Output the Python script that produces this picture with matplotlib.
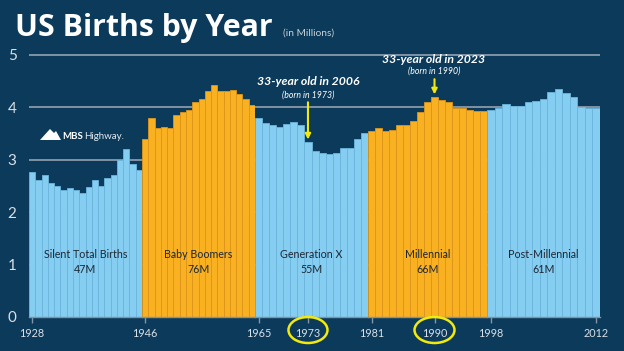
import matplotlib
matplotlib.use("Agg")
import matplotlib.pyplot as plt
from matplotlib.patches import Ellipse, Polygon
from matplotlib.transforms import blended_transform_factory

# ---------------- data ----------------
silent_vals = [2.76, 2.61, 2.70, 2.55, 2.50, 2.41, 2.46, 2.41, 2.37, 2.47,
               2.61, 2.50, 2.65, 2.70, 2.99, 3.20, 2.91, 2.80]
boomer_vals = [3.40, 3.80, 3.60, 3.61, 3.60, 3.85, 3.90, 3.95, 4.10, 4.15,
               4.30, 4.41, 4.30, 4.30, 4.33, 4.25, 4.15, 4.04]
genx_vals = [3.80, 3.70, 3.65, 3.62, 3.68, 3.71, 3.65, 3.33, 3.16, 3.12,
             3.10, 3.12, 3.21, 3.21, 3.40, 3.50]
millennial_vals = [3.55, 3.60, 3.55, 3.56, 3.66, 3.66, 3.73, 3.90, 4.10, 4.19,
                   4.14, 4.10, 3.99, 3.98, 3.94, 3.92, 3.92]
post_vals = [3.94, 3.99, 4.05, 4.01, 4.01, 4.10, 4.12, 4.15, 4.29, 4.34,
             4.27, 4.20, 4.00, 3.98, 3.98]

section_names = ["Silent Total Births", "Baby Boomers", "Generation X",
                 "Millennial", "Post-Millennial"]
section_totals = ["47M", "76M", "55M", "66M", "61M"]
section_values = [silent_vals, boomer_vals, genx_vals, millennial_vals, post_vals]
# tick labels per section: (bar index within section, label)
section_ticks = [[(0, "1928")], [(0, "1946")], [(0, "1965"), (7, "1973")],
                 [(0, "1981"), (9, "1990")], [(0, "1998"), (14, "2012")]]
y_ticks = [0, 1, 2, 3, 4, 5]

# ---------------- style ----------------
BG = "#0b3a5a"
BLUE = "#86cdf2"
BLUE_EDGE = "#6cb6de"
ORANGE = "#f9b021"
ORANGE_EDGE = "#de961a"
GRID = "#8193a5"
TXT = "#d9e0e6"
YELLOW = "#f2ea0c"
colors = [BLUE, ORANGE, BLUE, ORANGE, BLUE]
edges = [BLUE_EDGE, ORANGE_EDGE, BLUE_EDGE, ORANGE_EDGE, BLUE_EDGE]

W, H = 624, 351
fig = plt.figure(figsize=(W / 100, H / 100), dpi=100, facecolor=BG)

px_left = [29, 142, 255, 368, 487]
px_width = [113, 113, 113, 119, 113]
zero_px = 317
unit_px = 52.5
ymax = 5.1
bottom = (H - zero_px) / H
height = ymax * unit_px / H

axes = []
for i, vals in enumerate(section_values):
    ax = fig.add_axes([px_left[i] / W, bottom, px_width[i] / W, height])
    ax.set_facecolor("none")
    idx = list(range(len(vals)))
    ax.bar(idx, vals, width=1.0, color=colors[i], edgecolor=edges[i],
           linewidth=0.6, zorder=3)
    ax.set_xlim(-0.5, len(vals) - 0.5)
    ax.set_ylim(0, ymax)
    ax.set_yticks(y_ticks[1:] if i else y_ticks)
    ax.grid(axis="y", color=GRID, linewidth=1.4, zorder=0)
    for s in ["top", "right", "left"]:
        ax.spines[s].set_visible(False)
    ax.spines["bottom"].set_color(GRID)
    ax.spines["bottom"].set_linewidth(1.0)
    ax.spines["bottom"].set_zorder(4)
    if i == 0:
        ax.tick_params(axis="y", length=0, pad=9, labelsize=11, labelcolor=TXT)
        for lab in ax.get_yticklabels():
            lab.set_fontfamily("Lato")
    else:
        ax.tick_params(axis="y", length=0, labelleft=False)
    ticks = section_ticks[i]
    ax.set_xticks([t[0] for t in ticks])
    ax.set_xticklabels([t[1] for t in ticks], fontsize=7.8, color=TXT,
                       fontfamily="Lato")
    ax.tick_params(axis="x", length=4, width=1, color=GRID, pad=4)
    ax.text((len(vals) - 1) / 2, 1.04, section_names[i] + "\n" + section_totals[i],
            ha="center", va="center", fontsize=7.7, color="#1c2733",
            fontfamily="Lato", linespacing=1.45, zorder=5)
    axes.append(ax)

# annotations
ax3 = axes[2]
ax3.text(7.1, 4.48, "33-year old in 2006", ha="center", va="center", color="white",
         fontsize=8.8, fontweight="bold", fontstyle="italic", fontfamily="Lato")
ax3.text(7.1, 4.22, "(born in 1973)", ha="center", va="center", color="white",
         fontsize=6.3, fontstyle="italic", fontfamily="Lato")
ax3.annotate("", xy=(7, genx_vals[7] + 0.05), xytext=(7, 4.09),
             arrowprops=dict(arrowstyle="-|>", color=YELLOW, lw=1.5,
                             mutation_scale=8, shrinkA=0, shrinkB=0))
ax4 = axes[3]
ax4.text(8.8, 4.91, "33-year old in 2023", ha="center", va="center", color="white",
         fontsize=8.8, fontweight="bold", fontstyle="italic", fontfamily="Lato")
ax4.text(8.9, 4.68, "(born in 1990)", ha="center", va="center", color="white",
         fontsize=6.3, fontstyle="italic", fontfamily="Lato")
ax4.annotate("", xy=(9, millennial_vals[9] + 0.05), xytext=(9, 4.53),
             arrowprops=dict(arrowstyle="-|>", color=YELLOW, lw=1.5,
                             mutation_scale=8, shrinkA=0, shrinkB=0))

# yellow ellipses around highlighted years
for ax, xi, wpx in [(ax3, 7, 39), (ax4, 9, 40)]:
    tr = blended_transform_factory(ax.transData, ax.transAxes)
    bar_px = ax.get_position().width * W / (ax.get_xlim()[1] - ax.get_xlim()[0])
    e = Ellipse((xi, -13 / (ymax * unit_px)), wpx / bar_px, 26 / (ymax * unit_px),
                transform=tr, fill=False, edgecolor=YELLOW, linewidth=1.8,
                clip_on=False, zorder=6)
    ax.add_patch(e)

# title
fig.text(15 / W, 1 - 36 / H, "US Births by Year", color="white", fontsize=21.8,
         fontweight="bold", fontfamily="Open Sans", ha="left", va="baseline")
fig.text(283 / W, 1 - 36 / H, "(in Millions)", color="#c9d2db", fontsize=7.3,
         fontfamily="Lato", ha="left", va="baseline")

# logo
fig.patches.append(Polygon([[40 / W, 1 - 140 / H], [50 / W, 1 - 129 / H],
                            [54 / W, 1 - 133 / H], [56 / W, 1 - 131 / H],
                            [61 / W, 1 - 140 / H]], closed=True,
                           transform=fig.transFigure, facecolor="white",
                           edgecolor="none"))
fig.text(62 / W, 1 - 139 / H, "MBS", color="white", fontsize=7,
         fontweight="bold", fontfamily="Lato", ha="left", va="baseline")
fig.text(84 / W, 1 - 139 / H, "Highway.", color="#e6ebef", fontsize=7,
         fontfamily="Lato", ha="left", va="baseline")

fig.savefig("out.png", dpi=100, facecolor=BG)
